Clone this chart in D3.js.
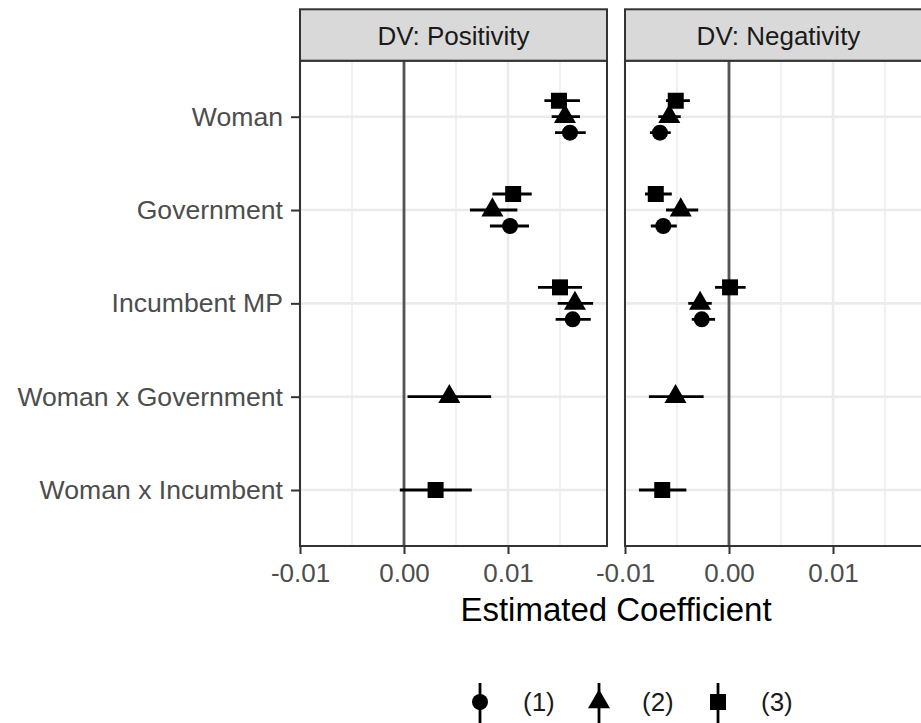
<!DOCTYPE html>
<html>
<head>
<meta charset="utf-8">
<script src="https://cdn.jsdelivr.net/npm/d3@7"></script>
<style>
  body { margin: 0; background: #fff; }
  svg { display: block; font-family: 'Liberation Sans', Arial, Helvetica, sans-serif; }
</style>
</head>
<body>
<svg id="chart" width="921" height="723"></svg>
<script>
// terms on the y axis, top to bottom
const terms = ['Woman', 'Government', 'Incumbent MP', 'Woman x Government', 'Woman x Incumbent'];
const models = ['(1)', '(2)', '(3)'];
const panels = ['DV: Positivity', 'DV: Negativity'];

const tickValues = [-0.005, 0, 0.005];
const tickLabels = ['-0.01', '0.00', '0.01'];
const minorValues = [-0.0025, 0.0025, 0.0075];

// [term, model, estimate, lower, upper]
const positivity = [
  ['Woman', '(1)', 0.00798, 0.00726, 0.00874],
  ['Woman', '(2)', 0.00774, 0.00710, 0.00846],
  ['Woman', '(3)', 0.00745, 0.00675, 0.00846],
  ['Government', '(1)', 0.00510, 0.00413, 0.00601],
  ['Government', '(2)', 0.00425, 0.00317, 0.00545],
  ['Government', '(3)', 0.00525, 0.00425, 0.00614],
  ['Incumbent MP', '(1)', 0.00811, 0.00729, 0.00898],
  ['Incumbent MP', '(2)', 0.00822, 0.00739, 0.00909],
  ['Incumbent MP', '(3)', 0.00750, 0.00644, 0.00856],
  ['Woman x Government', '(2)', 0.00218, 0.00017, 0.00419],
  ['Woman x Incumbent', '(3)', 0.00152, -0.00020, 0.00326]
];

const negativity = [
  ['Woman', '(1)', -0.00332, -0.00380, -0.00280],
  ['Woman', '(2)', -0.00287, -0.00340, -0.00232],
  ['Woman', '(3)', -0.00256, -0.00303, -0.00188],
  ['Government', '(1)', -0.00316, -0.00376, -0.00251],
  ['Government', '(2)', -0.00232, -0.00303, -0.00148],
  ['Government', '(3)', -0.00352, -0.00404, -0.00275],
  ['Incumbent MP', '(1)', -0.00131, -0.00179, -0.00067],
  ['Incumbent MP', '(2)', -0.00139, -0.00196, -0.00083],
  ['Incumbent MP', '(3)', 0.00005, -0.00067, 0.00080],
  ['Woman x Government', '(2)', -0.00257, -0.00385, -0.00122],
  ['Woman x Incumbent', '(3)', -0.00321, -0.00433, -0.00205]
];

const panelData = [positivity, negativity];

// layout
const panelLeft = [300, 625];
const panelW = 307;
const stripTop = 9.3;
const panelTop = 60.7;
const panelBottom = 546;
const axisText = '#4D4D4D';
const gridCol = '#EBEBEB';
const borderCol = '#333333';

const svg = d3.select('#chart');
svg.append('rect').attr('width', 921).attr('height', 723).attr('fill', '#fff');

const x = d3.scaleLinear().domain([-0.005, 0.00976]).range([0, panelW]);
const y = d3.scalePoint().domain(terms).range([panelTop, panelBottom]).padding(0.6);
const dodge = d3.scalePoint().domain(models).range([16, -16]);

const shapes = {
  '(1)': d3.symbol(d3.symbolCircle, 201),
  '(2)': d3.symbol(d3.symbolTriangle, 210),
  '(3)': d3.symbol(d3.symbolSquare, 256)
};

svg.append('defs').append('clipPath').attr('id', 'panel-clip')
  .append('rect')
  .attr('x', 0).attr('y', panelTop)
  .attr('width', panelW).attr('height', panelBottom - panelTop);

panels.forEach((title, i) => {
  const g = svg.append('g').attr('transform', `translate(${panelLeft[i]},0)`);
  const rows = panelData[i];

  // like position_dodge: a term with a single model stays centred
  const perTerm = d3.rollup(rows, v => v.length, d => d[0]);
  const yPos = d => y(d[0]) + (perTerm.get(d[0]) > 1 ? dodge(d[1]) : 0);

  // grid
  g.selectAll('.minor').data(minorValues).join('line')
    .attr('class', 'minor')
    .attr('x1', d => x(d)).attr('x2', d => x(d))
    .attr('y1', panelTop).attr('y2', panelBottom)
    .attr('stroke', gridCol).attr('stroke-width', 1.4);

  g.selectAll('.major-x').data(tickValues).join('line')
    .attr('class', 'major-x')
    .attr('x1', d => x(d)).attr('x2', d => x(d))
    .attr('y1', panelTop).attr('y2', panelBottom)
    .attr('stroke', gridCol).attr('stroke-width', 2.6);

  g.selectAll('.major-y').data(terms).join('line')
    .attr('class', 'major-y')
    .attr('x1', 0).attr('x2', panelW)
    .attr('y1', d => y(d)).attr('y2', d => y(d))
    .attr('stroke', gridCol).attr('stroke-width', 2.6);

  // reference line at zero
  g.append('line')
    .attr('x1', x(0)).attr('x2', x(0))
    .attr('y1', panelTop).attr('y2', panelBottom)
    .attr('stroke', '#555').attr('stroke-width', 2.8);

  const marks = g.append('g').attr('clip-path', 'url(#panel-clip)');

  marks.selectAll('.ci').data(rows).join('line')
    .attr('class', 'ci')
    .attr('x1', d => x(d[3])).attr('x2', d => x(d[4]))
    .attr('y1', yPos).attr('y2', yPos)
    .attr('stroke', '#000').attr('stroke-width', 2.8);

  marks.selectAll('.pt').data(rows).join('path')
    .attr('class', 'pt')
    .attr('d', d => shapes[d[1]]())
    .attr('transform', d => `translate(${x(d[2])},${yPos(d)})`)
    .attr('fill', '#000');

  // panel border
  g.append('rect')
    .attr('x', 0).attr('y', panelTop)
    .attr('width', panelW).attr('height', panelBottom - panelTop)
    .attr('fill', 'none').attr('stroke', borderCol).attr('stroke-width', 2);

  // strip
  g.append('rect')
    .attr('x', 0).attr('y', stripTop)
    .attr('width', panelW).attr('height', panelTop - stripTop)
    .attr('fill', '#D9D9D9').attr('stroke', borderCol).attr('stroke-width', 2);
  g.append('text')
    .attr('x', panelW / 2).attr('y', 45)
    .attr('text-anchor', 'middle')
    .attr('font-size', 26).attr('fill', '#1A1A1A')
    .text(title);

  // x axis
  const xAxis = g.append('g')
    .attr('transform', `translate(0,${panelBottom})`)
    .call(d3.axisBottom(x).tickValues(tickValues)
      .tickFormat((d, k) => tickLabels[k]).tickSize(8).tickPadding(10));
  xAxis.select('.domain').remove();
  xAxis.selectAll('line').attr('stroke', borderCol).attr('stroke-width', 2);
  xAxis.selectAll('text').attr('font-size', 26).attr('fill', axisText)
    .attr('font-family', null);

  if (i === 0) {
    const yAxis = g.append('g')
      .call(d3.axisLeft(y).tickSize(9).tickPadding(8));
    yAxis.select('.domain').remove();
    yAxis.selectAll('line').attr('stroke', borderCol).attr('stroke-width', 2);
    yAxis.selectAll('text').attr('font-size', 26.6).attr('fill', axisText)
      .attr('font-family', null);
  }
});

// axis title
svg.append('text')
  .attr('x', (panelLeft[0] + panelLeft[1] + panelW) / 2).attr('y', 621)
  .attr('text-anchor', 'middle')
  .attr('font-size', 33).attr('fill', '#000')
  .text('Estimated Coefficient');

// legend
const legendX = d3.scalePoint().domain(models).range([480, 718]);
const legend = svg.append('g');
const keys = legend.selectAll('g').data(models).join('g')
  .attr('transform', d => `translate(${legendX(d)},702)`);
keys.append('line')
  .attr('x1', 0).attr('x2', 0).attr('y1', -19).attr('y2', 21)
  .attr('stroke', '#000').attr('stroke-width', 2.8);
keys.append('path')
  .attr('d', d => shapes[d]())
  .attr('fill', '#000');
keys.append('text')
  .attr('x', 43).attr('y', 9)
  .attr('font-size', 26).attr('fill', '#1A1A1A')
  .text(d => d);
</script>
</body>
</html>
